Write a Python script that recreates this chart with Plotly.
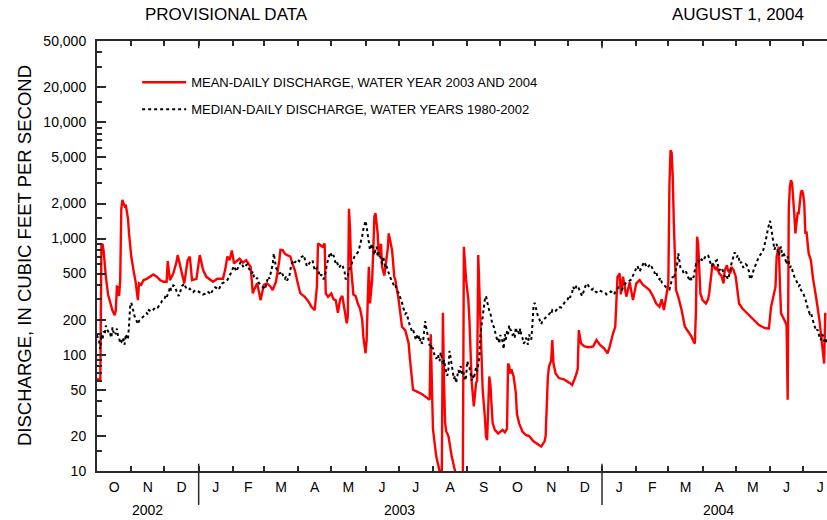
import calendar
from datetime import datetime, timedelta
import plotly.graph_objects as go

# ---------------- DATA ----------------
# Mean-daily discharge, water years 2003 and 2004 (date, cubic feet per second)
red_series = [
    ("2002-10-01", 62), ("2002-10-04", 60), ("2002-10-05", 880), ("2002-10-06", 900),
    ("2002-10-07", 780), ("2002-10-08", 590), ("2002-10-09", 470), ("2002-10-11", 330),
    ("2002-10-13", 280), ("2002-10-15", 240), ("2002-10-17", 219), ("2002-10-18", 240),
    ("2002-10-19", 385), ("2002-10-20", 380), ("2002-10-21", 320), ("2002-10-22", 440),
    ("2002-10-23", 1800), ("2002-10-24", 2150), ("2002-10-25", 2000), ("2002-10-26", 1900),
    ("2002-10-27", 1950), ("2002-10-28", 1700), ("2002-10-29", 1500), ("2002-10-30", 1100),
    ("2002-10-31", 850), ("2002-11-01", 700), ("2002-11-03", 535), ("2002-11-05", 420),
    ("2002-11-07", 295), ("2002-11-08", 411), ("2002-11-10", 400), ("2002-11-12", 438),
    ("2002-11-15", 450), ("2002-11-18", 470), ("2002-11-21", 490), ("2002-11-24", 470),
    ("2002-11-27", 440), ("2002-11-30", 425), ("2002-12-03", 425), ("2002-12-04", 640),
    ("2002-12-06", 438), ("2002-12-09", 500), ("2002-12-12", 630), ("2002-12-13", 720),
    ("2002-12-16", 535), ("2002-12-19", 411), ("2002-12-22", 650), ("2002-12-24", 700),
    ("2002-12-26", 438), ("2002-12-30", 450), ("2003-01-02", 720), ("2003-01-05", 535),
    ("2003-01-08", 468), ("2003-01-14", 425), ("2003-01-18", 450), ("2003-01-23", 450),
    ("2003-01-25", 540), ("2003-01-27", 700), ("2003-01-29", 650), ("2003-01-31", 790),
    ("2003-02-02", 610), ("2003-02-07", 670), ("2003-02-10", 620), ("2003-02-13", 650),
    ("2003-02-17", 571), ("2003-02-19", 337), ("2003-02-20", 360), ("2003-02-23", 411),
    ("2003-02-26", 295), ("2003-03-01", 400), ("2003-03-04", 411), ("2003-03-07", 385),
    ("2003-03-09", 360), ("2003-03-12", 425), ("2003-03-15", 651), ("2003-03-16", 800),
    ("2003-03-18", 795), ("2003-03-20", 740), ("2003-03-22", 720), ("2003-03-25", 700),
    ("2003-03-27", 600), ("2003-03-29", 535), ("2003-04-01", 400), ("2003-04-03", 337),
    ("2003-04-07", 315), ("2003-04-10", 290), ("2003-04-13", 259), ("2003-04-16", 242),
    ("2003-04-18", 385), ("2003-04-19", 905), ("2003-04-21", 880), ("2003-04-23", 849),
    ("2003-04-25", 905), ("2003-04-26", 337), ("2003-04-28", 315), ("2003-05-01", 337),
    ("2003-05-03", 300), ("2003-05-05", 295), ("2003-05-07", 230), ("2003-05-09", 300),
    ("2003-05-11", 320), ("2003-05-13", 250), ("2003-05-15", 186), ("2003-05-16", 215),
    ("2003-05-17", 1800), ("2003-05-18", 1200), ("2003-05-19", 550), ("2003-05-21", 330),
    ("2003-05-23", 320), ("2003-05-25", 276), ("2003-05-27", 250), ("2003-05-29", 200),
    ("2003-05-30", 143), ("2003-06-01", 103), ("2003-06-02", 133), ("2003-06-03", 295),
    ("2003-06-04", 571), ("2003-06-05", 277), ("2003-06-07", 440), ("2003-06-08", 795),
    ("2003-06-09", 1550), ("2003-06-10", 1650), ("2003-06-12", 1106), ("2003-06-13", 700),
    ("2003-06-15", 900), ("2003-06-16", 571), ("2003-06-18", 480), ("2003-06-19", 571),
    ("2003-06-21", 800), ("2003-06-22", 1106), ("2003-06-23", 1000), ("2003-06-25", 795),
    ("2003-06-27", 470), ("2003-06-28", 440), ("2003-07-01", 295), ("2003-07-04", 174),
    ("2003-07-07", 162), ("2003-07-10", 125), ("2003-07-11", 96), ("2003-07-13", 61),
    ("2003-07-14", 50), ("2003-07-18", 48), ("2003-07-22", 46), ("2003-07-26", 43),
    ("2003-07-29", 41), ("2003-07-30", 150), ("2003-07-31", 40), ("2003-08-01", 23),
    ("2003-08-04", 13.3), ("2003-08-07", 10), ("2003-08-09", 9), ("2003-08-10", 230),
    ("2003-08-11", 60), ("2003-08-12", 26), ("2003-08-13", 22), ("2003-08-15", 20),
    ("2003-08-18", 13.3), ("2003-08-21", 10), ("2003-08-23", 7), ("2003-08-28", 7),
    ("2003-08-29", 850), ("2003-08-30", 600), ("2003-08-31", 440), ("2003-09-02", 300),
    ("2003-09-03", 200), ("2003-09-05", 60), ("2003-09-06", 47), ("2003-09-07", 36),
    ("2003-09-09", 57), ("2003-09-10", 60), ("2003-09-11", 720), ("2003-09-12", 400),
    ("2003-09-13", 200), ("2003-09-14", 110), ("2003-09-15", 50), ("2003-09-17", 29),
    ("2003-09-18", 20), ("2003-09-19", 18.4), ("2003-09-20", 30), ("2003-09-21", 65),
    ("2003-09-22", 55), ("2003-09-23", 41), ("2003-09-24", 26), ("2003-09-26", 22.6),
    ("2003-09-29", 21), ("2003-10-03", 22.6), ("2003-10-05", 21.5), ("2003-10-07", 23),
    ("2003-10-08", 84), ("2003-10-09", 80), ("2003-10-10", 69), ("2003-10-11", 75),
    ("2003-10-13", 65), ("2003-10-15", 47), ("2003-10-16", 31), ("2003-10-18", 25.7),
    ("2003-10-21", 21.8), ("2003-10-24", 20.4), ("2003-10-27", 20), ("2003-10-31", 18),
    ("2003-11-03", 17.3), ("2003-11-07", 16.2), ("2003-11-10", 18), ("2003-11-11", 20),
    ("2003-11-13", 65), ("2003-11-14", 79), ("2003-11-16", 89), ("2003-11-17", 134),
    ("2003-11-18", 85), ("2003-11-20", 69), ("2003-11-23", 63), ("2003-11-28", 61),
    ("2003-12-03", 57), ("2003-12-05", 55), ("2003-12-08", 65), ("2003-12-10", 75),
    ("2003-12-11", 163), ("2003-12-13", 125), ("2003-12-16", 118), ("2003-12-20", 116),
    ("2003-12-24", 118), ("2003-12-27", 134), ("2003-12-30", 122), ("2004-01-03", 113),
    ("2004-01-06", 103), ("2004-01-08", 118), ("2004-01-11", 153), ("2004-01-13", 174),
    ("2004-01-15", 468), ("2004-01-17", 500), ("2004-01-18", 330), ("2004-01-20", 470),
    ("2004-01-23", 316), ("2004-01-26", 420), ("2004-01-29", 295), ("2004-02-01", 411),
    ("2004-02-04", 438), ("2004-02-07", 400), ("2004-02-10", 380), ("2004-02-13", 360),
    ("2004-02-16", 320), ("2004-02-19", 276), ("2004-02-22", 259), ("2004-02-24", 300),
    ("2004-02-26", 242), ("2004-02-28", 315), ("2004-03-01", 410), ("2004-03-02", 2877),
    ("2004-03-03", 5750), ("2004-03-04", 5500), ("2004-03-05", 3390), ("2004-03-06", 1350),
    ("2004-03-07", 611), ("2004-03-08", 360), ("2004-03-10", 315), ("2004-03-13", 243),
    ("2004-03-16", 174), ("2004-03-18", 163), ("2004-03-20", 150), ("2004-03-22", 143),
    ("2004-03-24", 129), ("2004-03-25", 125), ("2004-03-26", 240), ("2004-03-27", 1035),
    ("2004-03-28", 900), ("2004-03-29", 500), ("2004-03-30", 337), ("2004-04-01", 295),
    ("2004-04-04", 276), ("2004-04-06", 300), ("2004-04-07", 337), ("2004-04-09", 500),
    ("2004-04-10", 611), ("2004-04-11", 590), ("2004-04-13", 535), ("2004-04-14", 570),
    ("2004-04-16", 500), ("2004-04-18", 480), ("2004-04-20", 411), ("2004-04-21", 530),
    ("2004-04-23", 590), ("2004-04-24", 530), ("2004-04-26", 500), ("2004-04-27", 570),
    ("2004-04-29", 535), ("2004-05-01", 469), ("2004-05-03", 337), ("2004-05-04", 276),
    ("2004-05-07", 250), ("2004-05-10", 234), ("2004-05-13", 219), ("2004-05-16", 205),
    ("2004-05-19", 192), ("2004-05-22", 180), ("2004-05-25", 174), ("2004-05-28", 169),
    ("2004-05-31", 168), ("2004-06-01", 200), ("2004-06-02", 259), ("2004-06-04", 315),
    ("2004-06-06", 385), ("2004-06-07", 697), ("2004-06-09", 849), ("2004-06-10", 400),
    ("2004-06-11", 227), ("2004-06-14", 199), ("2004-06-16", 180), ("2004-06-17", 41),
    ("2004-06-18", 1800), ("2004-06-19", 2800), ("2004-06-20", 3177), ("2004-06-21", 3000),
    ("2004-06-22", 2300), ("2004-06-23", 1600), ("2004-06-24", 1106), ("2004-06-25", 1400),
    ("2004-06-26", 1650), ("2004-06-27", 1650), ("2004-06-28", 2200), ("2004-06-29", 2500),
    ("2004-06-30", 2600), ("2004-07-01", 2400), ("2004-07-02", 2000), ("2004-07-03", 1100),
    ("2004-07-04", 1150), ("2004-07-05", 950), ("2004-07-06", 744), ("2004-07-08", 650),
    ("2004-07-10", 450), ("2004-07-13", 300), ("2004-07-16", 190), ("2004-07-18", 125),
    ("2004-07-20", 84), ("2004-07-21", 230),
]

# Median-daily discharge 1980-2002, by day of the water year (MM-DD, cfs)
median_series = [
    ("10-01", 148), ("10-02", 140), ("10-03", 130), ("10-04", 112), ("10-05", 150),
    ("10-06", 135), ("10-07", 160), ("10-08", 150), ("10-09", 178), ("10-10", 165),
    ("10-11", 160), ("10-12", 148), ("10-13", 150), ("10-14", 140), ("10-15", 172),
    ("10-16", 155), ("10-17", 160), ("10-18", 150), ("10-19", 168), ("10-20", 145),
    ("10-21", 140), ("10-22", 125), ("10-23", 128), ("10-24", 140), ("10-25", 134),
    ("10-26", 122), ("10-27", 150), ("10-28", 140), ("10-29", 135), ("10-30", 180),
    ("10-31", 260), ("11-01", 280), ("11-02", 250), ("11-03", 230), ("11-04", 215),
    ("11-05", 205), ("11-06", 190), ("11-07", 183), ("11-08", 195), ("11-09", 200),
    ("11-10", 205), ("11-12", 212), ("11-13", 220), ("11-15", 228), ("11-16", 222),
    ("11-17", 242), ("11-19", 235), ("11-20", 238), ("11-22", 250), ("11-23", 258),
    ("11-25", 255), ("11-26", 262), ("11-28", 280), ("11-29", 292), ("12-01", 300),
    ("12-02", 322), ("12-03", 310), ("12-04", 330), ("12-05", 345), ("12-06", 385),
    ("12-07", 360), ("12-08", 372), ("12-09", 395), ("12-10", 390), ("12-11", 365),
    ("12-12", 350), ("12-13", 335), ("12-14", 320), ("12-15", 340), ("12-16", 372),
    ("12-17", 390), ("12-18", 400), ("12-19", 410), ("12-20", 385), ("12-21", 370),
    ("12-23", 362), ("12-24", 370), ("12-26", 350), ("12-27", 345), ("12-29", 360),
    ("12-31", 350), ("01-02", 345), ("01-04", 340), ("01-05", 330), ("01-07", 335),
    ("01-09", 350), ("01-10", 345), ("01-12", 330), ("01-13", 350), ("01-15", 365),
    ("01-16", 380), ("01-18", 370), ("01-19", 362), ("01-21", 395), ("01-22", 410),
    ("01-24", 420), ("01-25", 430), ("01-27", 440), ("01-28", 455), ("01-30", 500),
    ("01-31", 530), ("02-02", 580), ("02-03", 550), ("02-04", 520), ("02-06", 570),
    ("02-07", 600), ("02-08", 630), ("02-10", 580), ("02-11", 560), ("02-13", 590),
    ("02-14", 600), ("02-16", 540), ("02-18", 500), ("02-19", 520), ("02-20", 470),
    ("02-22", 445), ("02-23", 460), ("02-24", 420), ("02-26", 400), ("02-28", 380),
    ("03-02", 365), ("03-03", 400), ("03-04", 440), ("03-05", 470), ("03-06", 450),
    ("03-08", 530), ("03-09", 600), ("03-10", 745), ("03-11", 640), ("03-12", 560),
    ("03-13", 540), ("03-14", 530), ("03-15", 500), ("03-16", 505), ("03-17", 520),
    ("03-18", 480), ("03-19", 460), ("03-20", 450), ("03-21", 470), ("03-22", 435),
    ("03-24", 470), ("03-25", 540), ("03-26", 600), ("03-28", 650), ("03-29", 620),
    ("03-31", 660), ("04-02", 640), ("04-03", 690), ("04-05", 700), ("04-06", 720),
    ("04-08", 620), ("04-09", 575), ("04-11", 610), ("04-12", 630), ("04-14", 650),
    ("04-15", 580), ("04-16", 530), ("04-18", 560), ("04-19", 535), ("04-21", 470),
    ("04-22", 490), ("04-24", 445), ("04-26", 520), ("04-27", 600), ("04-29", 700),
    ("04-30", 760), ("05-02", 690), ("05-03", 720), ("05-05", 610), ("05-06", 630),
    ("05-08", 560), ("05-10", 600), ("05-11", 590), ("05-13", 520), ("05-14", 445),
    ("05-16", 480), ("05-17", 530), ("05-19", 600), ("05-20", 640), ("05-22", 700),
    ("05-23", 720), ("05-25", 760), ("05-26", 800), ("05-28", 950), ("05-29", 1050),
    ("05-30", 1200), ("05-31", 1300), ("06-01", 1420), ("06-02", 1250), ("06-03", 1050),
    ("06-04", 950), ("06-05", 800), ("06-06", 850), ("06-07", 900), ("06-08", 780),
    ("06-09", 720), ("06-10", 800), ("06-11", 850), ("06-12", 700), ("06-13", 760),
    ("06-14", 720), ("06-15", 650), ("06-16", 600), ("06-17", 700), ("06-18", 620),
    ("06-19", 560), ("06-20", 580), ("06-21", 530), ("06-22", 500), ("06-23", 470),
    ("06-24", 450), ("06-25", 430), ("06-27", 390), ("06-28", 400), ("06-29", 360),
    ("07-01", 340), ("07-02", 320), ("07-03", 300), ("07-04", 280), ("07-05", 255),
    ("07-06", 240), ("07-07", 225), ("07-08", 230), ("07-09", 205), ("07-10", 195),
    ("07-11", 180), ("07-12", 170), ("07-13", 160), ("07-14", 165), ("07-15", 148),
    ("07-16", 140), ("07-17", 134), ("07-18", 150), ("07-19", 145), ("07-20", 130),
    ("07-21", 138), ("07-22", 125), ("07-23", 128), ("07-24", 160), ("07-25", 195),
    ("07-26", 170), ("07-27", 155), ("07-28", 135), ("07-29", 120), ("07-30", 125),
    ("07-31", 110), ("08-01", 115), ("08-02", 102), ("08-03", 95), ("08-04", 92),
    ("08-05", 100), ("08-06", 96), ("08-07", 88), ("08-08", 105), ("08-09", 95),
    ("08-10", 82), ("08-11", 90), ("08-12", 76), ("08-13", 70), ("08-14", 66),
    ("08-15", 75), ("08-16", 108), ("08-17", 95), ("08-18", 82), ("08-19", 70),
    ("08-20", 62), ("08-21", 66), ("08-22", 57), ("08-23", 65), ("08-24", 74),
    ("08-25", 68), ("08-26", 80), ("08-27", 72), ("08-28", 66), ("08-29", 70),
    ("08-30", 60), ("08-31", 65), ("09-01", 88), ("09-02", 82), ("09-03", 78),
    ("09-04", 70), ("09-05", 60), ("09-06", 66), ("09-07", 62), ("09-08", 70),
    ("09-09", 78), ("09-10", 72), ("09-11", 85), ("09-12", 95), ("09-13", 150),
    ("09-14", 180), ("09-15", 215), ("09-16", 250), ("09-17", 300), ("09-18", 320),
    ("09-19", 280), ("09-20", 260), ("09-21", 240), ("09-22", 228), ("09-23", 200),
    ("09-24", 180), ("09-25", 175), ("09-26", 160), ("09-27", 150), ("09-28", 135),
    ("09-29", 140), ("09-30", 125),
]
water_years = [2003, 2004]

y_tick_values = [10, 20, 50, 100, 200, 500, 1000, 2000, 5000, 10000, 20000, 50000]
y_tick_labels = ["10", "20", "50", "100", "200", "500", "1,000", "2,000",
                 "5,000", "10,000", "20,000", "50,000"]
y_minor_values = [15, 30, 40, 60, 70, 80, 90, 150, 300, 400, 600, 700, 800, 900,
                  1500, 3000, 4000, 6000, 7000, 8000, 9000, 15000, 30000, 40000]
month_letters = ["O", "N", "D", "J", "F", "M", "A", "M", "J", "J", "A", "S",
                 "O", "N", "D", "J", "F", "M", "A", "M", "J", "J"]
year_labels = ["2002", "2003", "2004"]
legend_names = ["MEAN-DAILY DISCHARGE, WATER YEAR 2003 AND 2004",
                "MEDIAN-DAILY DISCHARGE, WATER YEARS 1980-2002"]
title_left = "PROVISIONAL DATA"
title_right = "AUGUST 1, 2004"
y_title = "DISCHARGE, IN CUBIC FEET PER SECOND"

# ---------------- derived structures ----------------
red_dates = [d for d, _ in red_series]
red_values = [v for _, v in red_series]

med_dates, med_values = [], []
for wy in water_years:
    for md, v in median_series:
        m = int(md[:2])
        yr = wy - 1 if m >= 10 else wy
        med_dates.append(f"{yr}-{md}")
        med_values.append(v)

x_start = datetime(2002, 10, 1)
x_end = datetime(2004, 7, 22, 14)

mid_months, month_starts = [], []
y, m = 2002, 10
for _ in month_letters:
    n = calendar.monthrange(y, m)[1]
    first = datetime(y, m, 1)
    mid_months.append(first + timedelta(days=n / 2))
    if first > x_start:
        month_starts.append(first)
    m += 1
    if m > 12:
        m, y = 1, y + 1

year_centers = [datetime(2002, 11, 15, 12), datetime(2003, 7, 2), datetime(2004, 4, 15)]
year_bounds = [datetime(2003, 1, 1), datetime(2004, 1, 1)]

FONT = "Liberation Sans, Arial, Helvetica, sans-serif"
AX = "#2a2a2a"

fig = go.Figure()
fig.add_trace(go.Scatter(
    x=red_dates, y=red_values, mode="lines", name=legend_names[0],
    line=dict(color="#ff0000", width=2.4), legend="legend"))
fig.add_trace(go.Scatter(
    x=med_dates, y=med_values, mode="lines", name=legend_names[1],
    line=dict(color="#000000", width=2, dash="dot"), legend="legend2"))

shapes = []
for b in year_bounds:
    shapes.append(dict(type="line", xref="x", yref="paper", x0=b, x1=b,
                       y0=-0.079, y1=0.017, line=dict(color=AX, width=1.5)))
    shapes.append(dict(type="line", xref="x", yref="paper", x0=b, x1=b,
                       y0=0.983, y1=1.0, line=dict(color=AX, width=1.5)))

annotations = [
    dict(text=title_left, xref="paper", yref="paper", x=0.178, y=1.0605,
         xanchor="center", yanchor="middle", showarrow=False,
         font=dict(size=17, color="black", family=FONT)),
    dict(text=title_right, xref="paper", yref="paper", x=0.878, y=1.0605,
         xanchor="center", yanchor="middle", showarrow=False,
         font=dict(size=17, color="black", family=FONT)),
    dict(text=y_title, xref="paper", yref="paper", x=-0.1, y=0.5, textangle=-90,
         xanchor="center", yanchor="middle", showarrow=False,
         font=dict(size=18.5, color="black", family=FONT)),
]
for xc, lab in zip(year_centers, year_labels):
    annotations.append(dict(text=lab, xref="x", yref="paper", x=xc, y=-0.0907,
                            xanchor="center", yanchor="middle", showarrow=False,
                            font=dict(size=14, color="black", family=FONT)))

fig.update_layout(
    width=827, height=520, autosize=False,
    margin=dict(l=97, r=0, t=41, b=49),
    paper_bgcolor="white", plot_bgcolor="white",
    font=dict(family=FONT, color="black", size=14),
    xaxis=dict(
        type="date", range=[x_start, x_end],
        tickmode="array", tickvals=mid_months, ticktext=month_letters,
        ticks="", showgrid=False, zeroline=False,
        showline=True, linecolor=AX, linewidth=2, mirror="ticks",
        ticklabelstandoff=2, tickfont=dict(size=14, family=FONT),
        minor=dict(tickmode="array", tickvals=month_starts, ticks="inside",
                   ticklen=5, tickwidth=1.5, tickcolor=AX, showgrid=False),
    ),
    yaxis=dict(
        type="log", range=[1, 4.69897],
        tickmode="array", tickvals=y_tick_values, ticktext=y_tick_labels,
        ticks="inside", ticklen=9, tickwidth=1.5, tickcolor=AX,
        showgrid=False, zeroline=False,
        showline=True, linecolor=AX, linewidth=2,
        ticklabelstandoff=6, tickfont=dict(size=14, family=FONT),
        minor=dict(tickmode="array", tickvals=y_minor_values, ticks="inside",
                   ticklen=5, tickwidth=1.5, tickcolor=AX, showgrid=False),
    ),
    legend=dict(x=0.055, y=0.939, xanchor="left", yanchor="top",
                bgcolor="rgba(0,0,0,0)", itemwidth=44,
                font=dict(size=13, family=FONT)),
    legend2=dict(x=0.055, y=0.876, xanchor="left", yanchor="top",
                 bgcolor="rgba(0,0,0,0)", itemwidth=44,
                 font=dict(size=13, family=FONT)),
    shapes=shapes, annotations=annotations,
    showlegend=True,
)

fig.write_html("out.html",
               config={"displayModeBar": False},
               post_script="document.body.style.margin='0';document.body.style.padding='0';")
